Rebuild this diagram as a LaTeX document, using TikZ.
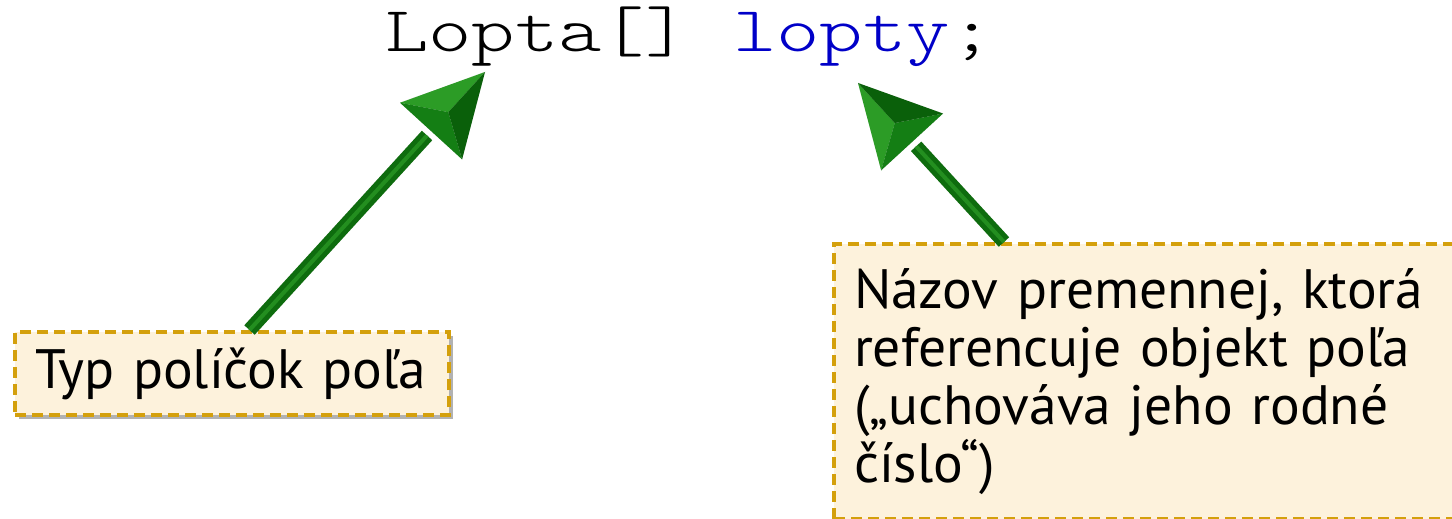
\documentclass[tikz,border=0pt]{standalone}
\usepackage{fontspec}
\setmainfont{PT Sans}
\newfontfamily\codefont{Latin Modern Mono Light}[FakeStretch=1.29]
\usetikzlibrary{calc,shadows}
\definecolor{boxfill}{RGB}{253,242,220}
\definecolor{boxline}{RGB}{212,160,12}
\definecolor{codeblue}{RGB}{0,0,200}
\definecolor{gdark}{RGB}{10,96,10}
\definecolor{gmid}{RGB}{20,126,20}
\definecolor{glight}{RGB}{44,156,38}
\definecolor{gshaft}{RGB}{14,108,14}
\tikzset{
  notebox/.style={draw=boxline, line width=4pt, dash pattern=on 11pt off 6pt,
    fill=boxfill, rectangle, align=left, inner xsep=20pt, anchor=north west,
    font=\fontsize{55.5}{58}\selectfont,
    drop shadow={shadow xshift=4pt, shadow yshift=-4pt, opacity=0.3, fill=black}},
  codetext/.style={inner sep=0pt, anchor=base west, font=\codefont\fontsize{64}{70}\selectfont},
  shaftline/.style={line width=14pt, gshaft},
  shaftlight/.style={line width=4pt, glight!70!gshaft},
  arrowshadow/.style={fill=black, opacity=0.15, draw=none}
}
\newcommand{\greenarrow}[2]{%
  \coordinate (hb) at ($(#2)!80pt!(#1)$);
  \coordinate (hw1) at ($(hb)!42pt!90:(#2)$);
  \coordinate (hw2) at ($(hb)!42pt!-90:(#2)$);
  \coordinate (hc) at ($(hb)!0.32!(#2)$);
  \coordinate (hs) at ($(hb)!-6pt!(#2)$);
  \begin{scope}[xshift=5pt, yshift=-5pt]
    \draw[line width=14pt, black, opacity=0.15] (#1) -- (hs);
    \fill[arrowshadow] (#2) -- (hw1) -- (hw2) -- cycle;
  \end{scope}
  \draw[shaftline] (#1) -- (hs);
  \draw[shaftlight] (#1) -- (hs);
  \fill[glight] (#2) -- (hw1) -- (hc) -- cycle;
  \fill[gmid] (hw1) -- (hw2) -- (hc) -- cycle;
  \fill[gdark] (hw2) -- (#2) -- (hc) -- cycle;
}
\begin{document}
\begin{tikzpicture}[x=1pt, y=-1pt]
  \useasboundingbox (0,0) rectangle (1452,519);
  \fill[white] (0,0) rectangle (1452,519);
  % code line
  \node[codetext] (typ) at (385,52) {Lopta[]};
  \node[codetext, text=codeblue] (name) at (733,52) {lopty};
  \node[codetext] (semi) at (950.5,52) {;};
  % boxes
  \node[notebox, text width=394pt, minimum height=83pt] (box1) at (13,330)
    {Typ políčok poľa};
  \node[notebox, text width=600pt, minimum height=275pt] (box2) at (832,242)
    {Názov premennej, ktorá\\referencuje objekt poľa\\(„uchováva jeho rodné\\číslo“)};
  % arrow end points
  \coordinate (tail1) at ($(box1.north west)!0.54!(box1.north east)$);
  \coordinate (tip1) at (485,72);
  \coordinate (tail2) at ($(box2.north west)!0.267!(box2.north east)$);
  \coordinate (tip2) at (858,83);
  \greenarrow{tail1}{tip1}
  \greenarrow{tail2}{tip2}
\end{tikzpicture}
\end{document}
